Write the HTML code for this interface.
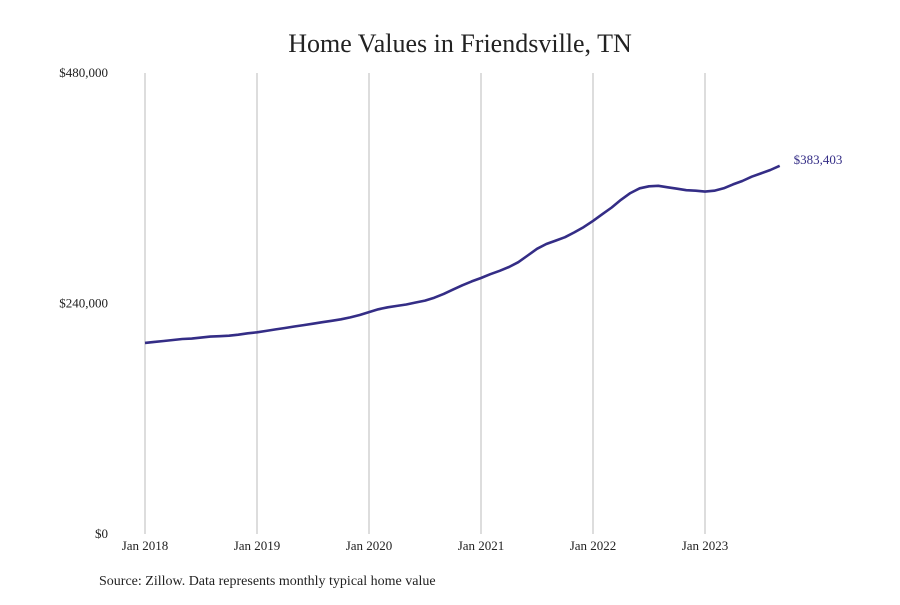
<!DOCTYPE html>
<html><head><meta charset="utf-8"><style>
body{margin:0;background:#fff;}
svg text{font-family:"Liberation Serif",serif;fill:#222;}
</style></head><body>
<svg width="900" height="600">
<text x="460" y="52" text-anchor="middle" font-size="26">Home Values in Friendsville, TN</text>
<g id="grid"></g><g id="yt"></g><g id="xt"></g>
<path id="line" fill="none" stroke="#342d86" stroke-width="2.6" stroke-linejoin="round"/>
<text id="endlbl" font-size="13" style="fill:#342d86"></text>
<text x="99" y="585" font-size="14">Source: Zillow. Data represents monthly typical home value</text>
</svg>
<script>
const values=[199,200,201,202,203,203.5,204.5,205.5,206,206.5,207.5,209,
210,211.5,213,214.5,216,217.5,219,220.5,222,223.5,225.5,228,
231,234,236,237.5,239,241,243,246,250,254.5,259,263,
266.5,270.5,274,278,283,290,297,302,305.5,309,314,319.5,
326,333,340,348,355,360,362,362.5,361,359.5,358,357.5,
356.5,357.5,360,364,367.5,372,375.5,379,383.403];
const yTicks=[0,240000,480000];
const yTickLabels=["$0","$240,000","$480,000"];
const xYears=[2018,2019,2020,2021,2022,2023];
const endLabel="$383,403";
const ns="http://www.w3.org/2000/svg";
const x=i=>145+i*112/12, y=v=>534-v/480000*461;
const g=document.getElementById('grid'),yt=document.getElementById('yt'),xt=document.getElementById('xt');
xYears.forEach((yr,k)=>{
 const l=document.createElementNS(ns,'line');
 
 
 const px=x(k*12);
 l.setAttribute('x1',px);l.setAttribute('x2',px);l.setAttribute('y1',73);l.setAttribute('y2',534);
 l.setAttribute('stroke','#bbb');l.setAttribute('stroke-width','1');g.appendChild(l);
 const t=document.createElementNS(ns,'text');
 
 
 t.setAttribute('x',px);t.setAttribute('y',550);t.setAttribute('text-anchor','middle');t.setAttribute('font-size','13');
 t.textContent='Jan '+yr;xt.appendChild(t);
});
yTicks.forEach((v,k)=>{
 const t=document.createElementNS(ns,'text');
 
 
 t.setAttribute('x',108);t.setAttribute('y',y(v)+4);t.setAttribute('text-anchor','end');t.setAttribute('font-size','13');
 t.textContent=yTickLabels[k];yt.appendChild(t);
});
const d=values.map((v,i)=>(i?'L':'M')+x(i).toFixed(1)+','+y(v*1000).toFixed(1)).join('');
document.getElementById('line').setAttribute('d',d);
const n=values.length-1,el=document.getElementById('endlbl');
el.setAttribute('x',x(n)+14);el.setAttribute('y',y(values[n]*1000)-2);el.textContent=endLabel;
</script>
</body></html>
